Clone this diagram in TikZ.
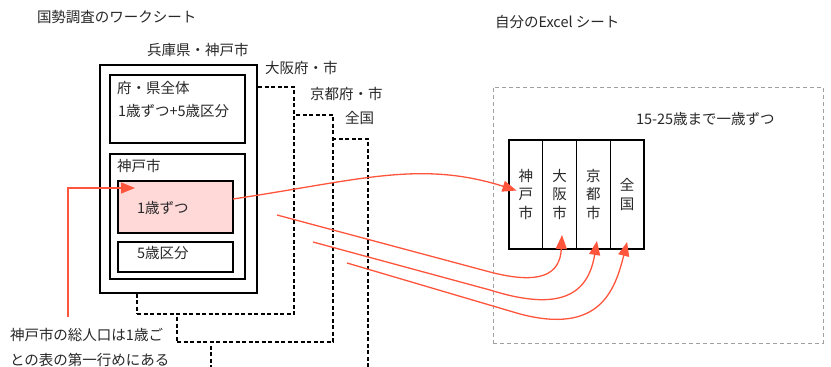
\documentclass[tikz,border=0pt]{standalone}
\usepackage{fontspec}
\setmainfont{Noto Sans CJK JP}
\usetikzlibrary{arrows.meta}
\definecolor{redl}{RGB}{255,85,60}
\definecolor{pinkf}{RGB}{255,216,216}
\definecolor{txt}{RGB}{40,40,40}
\definecolor{grayd}{RGB}{160,160,160}
\begin{document}
\begin{tikzpicture}[x=1pt,y=-1pt,
  every node/.style={inner sep=0pt, outer sep=0pt, text=txt, font=\fontsize{14.5}{17}\selectfont},
  lbl/.style={anchor=west},
  solidbox/.style={draw=black, line width=1.6pt, fill=white, anchor=north west},
  sheet/.style={draw=black, line width=1.4pt, dash pattern=on 4pt off 2.5pt, fill=white, anchor=north west},
  col/.style={draw=black, line width=1.4pt, anchor=north west, minimum width=33.75pt, minimum height=109pt, align=center, font=\fontsize{14.5}{18.5}\selectfont},
  redarrow/.style={draw=redl, line width=1.3pt, -{Triangle[length=14pt,width=11pt]}},
]
\useasboundingbox (0,0) rectangle (831,367);
\fill[white] (0,0) rectangle (831,367);
\clip (0,0) rectangle (831,367);

% stacked sheets
\node[sheet, minimum width=157pt, minimum height=240pt] (zenkoku) at (211,139) {};
\node[sheet, minimum width=156pt, minimum height=227pt] (kyoto) at (177,115) {};
\node[sheet, minimum width=157pt, minimum height=227pt] (osaka) at (137,87) {};
\node[solidbox, minimum width=157pt, minimum height=228pt] (hyogo) at (100,65) {};
\node[solidbox, line width=1.4pt, minimum width=135pt, minimum height=68pt] (fuken) at (110,75) {};
\node[solidbox, line width=1.4pt, minimum width=135pt, minimum height=125pt] (kobe) at (110,154) {};
\node[solidbox, line width=1.4pt, fill=pinkf, minimum width=115pt, minimum height=52pt] (pink) at (118,181) {};
\node[solidbox, line width=1.4pt, minimum width=115pt, minimum height=30pt] (go) at (118,242) {};

% labels
\node[lbl] (title) at (37,17) {国勢調査のワークシート};
\node[lbl] (lhyogo) at (147,50) {兵庫県・神戸市};
\node[lbl] (losaka) at (265,68) {大阪府・市};
\node[lbl] (lkyoto) at (310,94) {京都府・市};
\node[lbl] (lzen) at (345,118) {全国};
\node[lbl] (t1) at (117,88) {府・県全体};
\node[lbl] (t2) at (118,111) {1歳ずつ+5歳区分};
\node[lbl] (t3) at (117,166) {神戸市};
\node[lbl] (t4) at (137,208) {1歳ずつ};
\node[lbl] (t5) at (137,253) {5歳区分};
\node[lbl, align=left, font=\fontsize{14.5}{25}\selectfont] (note) at (10,347.5) {神戸市の総人口は1歳ご\\との表の第一行めにある};

% Excel sheet
\node[draw=grayd, line width=1pt, dash pattern=on 4pt off 3pt, anchor=north west, minimum width=330pt, minimum height=256pt] (excel) at (493,87) {};
\node[lbl] (lexcel) at (495,22) {自分のExcel シート};
\node[lbl] (lrange) at (636,119) {15-25歳まで一歳ずつ};
\node[col] (c1) at (509,140) {神\\戸\\市};
\node[col] (c2) at (542.75,140) {大\\阪\\市};
\node[col] (c3) at (576.5,140) {京\\都\\市};
\node[col] (c4) at (610.25,140) {全\\国};

% arrows
\coordinate (noteTop) at (68,317);
\coordinate (tipL) at (135,188);
\draw[redarrow] (noteTop) |- (tipL);
\draw[redarrow] ([yshift=8pt]pink.east) .. controls (360,180) and (420,160) .. ([xshift=7.5pt,yshift=4pt]c1.west);
\coordinate (s2) at (277,215);
\coordinate (s3) at (313,242);
\coordinate (s4) at (347,263);
\draw[redarrow] (s2) -- (490,272) .. controls (540,285) and (560,275) .. ([xshift=2.4pt,yshift=14pt]c2.south);
\draw[redarrow] (s3) -- (490,290) .. controls (560,312) and (588,295) .. ([xshift=3.6pt,yshift=8pt]c3.south);
\draw[redarrow] (s4) -- (520,314) .. controls (600,335) and (615,290) .. ([yshift=7pt]c4.south);
\end{tikzpicture}
\end{document}
